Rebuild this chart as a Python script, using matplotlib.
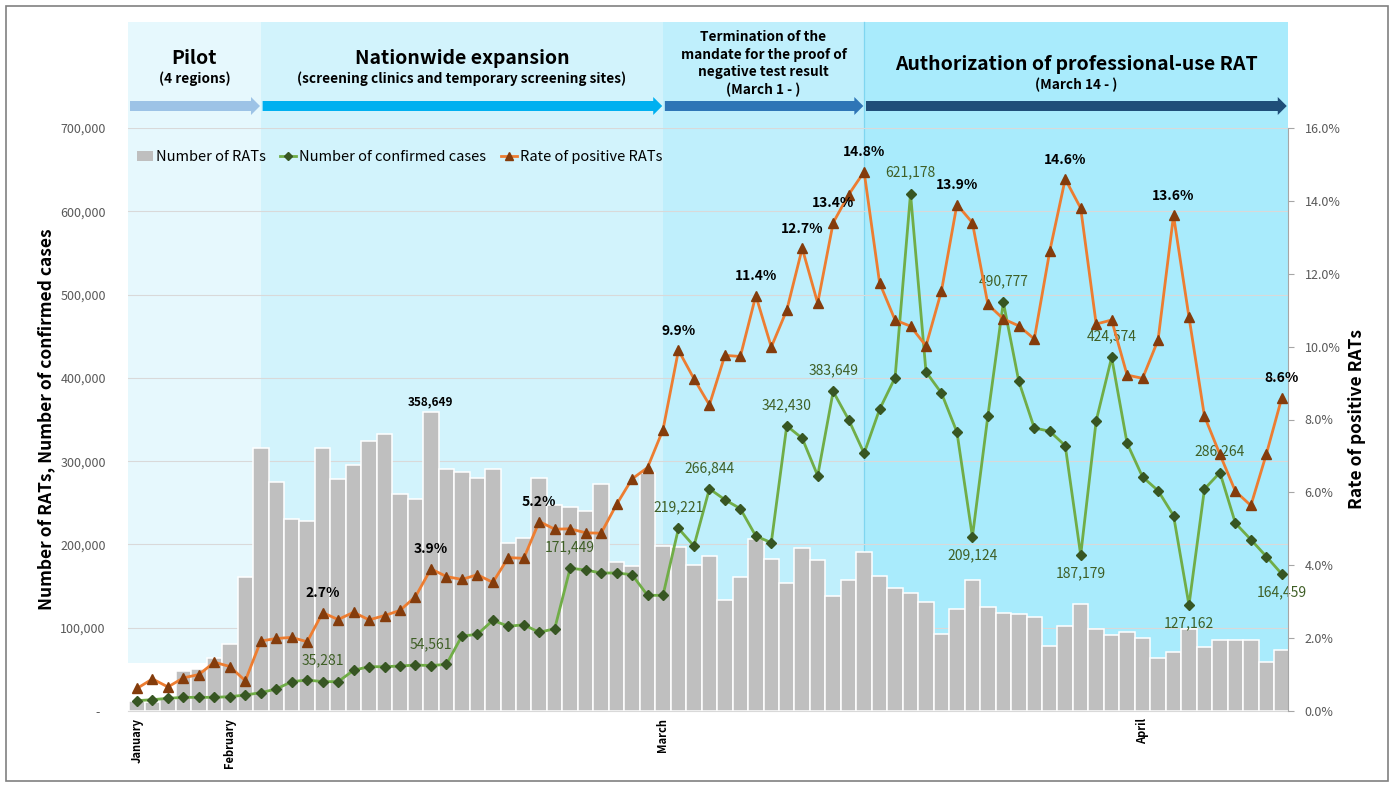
import matplotlib
matplotlib.use("Agg")
import matplotlib.pyplot as plt
import matplotlib.transforms as mtransforms
from matplotlib.patches import Rectangle, Polygon, Patch
from matplotlib.lines import Line2D
from matplotlib.ticker import FuncFormatter, MultipleLocator
import numpy as np
import pandas as pd

plt.rcParams['font.family'] = ['Noto Sans CJK KR', 'DejaVu Sans']

# ---------------------------------------------------------------- data
dates = pd.date_range('2022-01-26', '2022-04-10', freq='D')

rat_tests = [
    12000, 11000, 14000, 48400, 50400, 64000, 80000, 161000, 316000, 275000,
    231000, 228500, 316000, 279000, 295000, 324000, 333000, 260600, 255000, 358649,
    290600, 286600, 279800, 290200, 201700, 207700, 279800, 247000, 244600, 240000,
    273000, 179000, 174500, 285800, 198100, 197300, 175300, 186500, 133300, 160900,
    206500, 182500, 153700, 195300, 181700, 138100, 157300, 190900, 162500, 147300,
    141200, 130600, 92000, 121900, 157100, 125300, 117100, 116600, 112300, 77600,
    101700, 128200, 98800, 91600, 94500, 87700, 63100, 70400, 98800, 77100,
    84800, 84800, 84800, 58800, 72800,
]

confirmed = [
    12400, 13600, 15200, 16400, 16400, 16400, 17200, 19200, 22000, 26400,
    35200, 37200, 35281, 35200, 48900, 53200, 53200, 54000, 55200, 54561,
    56000, 90000, 92000, 108900, 101700, 103600, 94500, 98800, 171449, 169300,
    165700, 165700, 163700, 138900, 138900, 219221, 198100, 266844, 253700, 242900,
    210100, 202100, 342430, 327400, 282500, 383649, 349800, 309400, 362200, 400200,
    621178, 407200, 381700, 334900, 209124, 354200, 490777, 395700, 339800, 335900,
    318600, 187179, 348400, 424574, 321400, 281000, 264600, 234700, 127162, 266500,
    286264, 225500, 205800, 185500, 164459,
]

positive_rate = [
    0.62, 0.88, 0.66, 0.91, 1.00, 1.34, 1.22, 0.83, 1.92, 1.99,
    2.02, 1.90, 2.7, 2.51, 2.71, 2.50, 2.62, 2.76, 3.14, 3.9,
    3.69, 3.61, 3.74, 3.53, 4.21, 4.19, 5.2, 4.99, 5.00, 4.89,
    4.88, 5.67, 6.37, 6.68, 7.72, 9.9, 9.12, 8.40, 9.76, 9.73,
    11.4, 9.99, 11.00, 12.7, 11.19, 13.4, 14.17, 14.8, 11.75, 10.73,
    10.56, 10.02, 11.53, 13.9, 13.40, 11.16, 10.76, 10.57, 10.21, 12.62,
    14.6, 13.80, 10.62, 10.73, 9.22, 9.13, 10.18, 13.6, 10.81, 8.09,
    7.04, 6.03, 5.64, 7.05, 8.6,
]

month_labels = ['January', 'February', 'March', 'April']
month_dates = ['2022-01-26', '2022-02-01', '2022-03-01', '2022-04-01']

phase_titles = ['Pilot', 'Nationwide expansion',
                'Termination of the\nmandate for the proof of\nnegative test result',
                'Authorization of professional-use RAT']
phase_notes = ['(4 regions)', '(screening clinics and temporary screening sites)',
               '(March 1 - )', '(March 14 - )']
phase_starts = ['2022-01-26', '2022-02-03', '2022-03-01', '2022-03-14']

# which points carry value labels
confirmed_above = ['2022-02-07', '2022-02-14', '2022-02-23', '2022-03-02', '2022-03-04',
                   '2022-03-09', '2022-03-12', '2022-03-17', '2022-03-23', '2022-03-30',
                   '2022-04-06']
confirmed_below = ['2022-03-21', '2022-03-28', '2022-04-04', '2022-04-10']
rate_labelled = ['2022-02-07', '2022-02-14', '2022-02-21', '2022-03-02', '2022-03-07',
                 '2022-03-10', '2022-03-12', '2022-03-14', '2022-03-20', '2022-03-27',
                 '2022-04-03', '2022-04-10']
rat_labelled = ['2022-02-14']

# ---------------------------------------------------------------- helpers
def day_index(d):
    return int((pd.Timestamp(d) - dates[0]).days)

x = np.arange(len(dates))

W, H = 1395, 787
fig = plt.figure(figsize=(W / 100, H / 100), dpi=100)
fig.patch.set_facecolor('white')

# plot area in pixels: x 128..1288, y 128..711
ax = fig.add_axes([128 / W, 1 - 711 / H, 1160 / W, 583 / H])
ax2 = ax.twinx()

x_left, x_right = -0.582, 74.40
ax.set_xlim(x_left, x_right)
ax.set_ylim(0, 700000)
ax2.set_ylim(0, 16)


def ya(py):
    """pixel row -> axes fraction"""
    return (711 - py) / 583


trans = mtransforms.blended_transform_factory(ax.transData, ax.transAxes)

# ---------------------------------------------------------------- phase panels
panel_colors = ['#E6F8FD', '#D2F3FC', '#BFEFFC', '#A9EBFC']
arrow_colors = ['#9DC3E6', '#00B0F0', '#2E75B6', '#1F4E79']
starts = [day_index(d) for d in phase_starts]
bounds = [x_left] + starts[1:] + [x_right]
panel_bottom, panel_top = ya(663), ya(22)
for i in range(4):
    ax.add_patch(Rectangle((bounds[i], panel_bottom), bounds[i + 1] - bounds[i],
                           panel_top - panel_bottom, transform=trans,
                           facecolor=panel_colors[i], edgecolor='none',
                           zorder=0, clip_on=False))
ax.add_line(Line2D([bounds[3], bounds[3]], [panel_bottom, panel_top], transform=trans,
                   color='#7FD6F0', lw=0.9, zorder=0.2, clip_on=False))

# arrows
yc = ya(106)
hb, hh = 5 / 583, 9 / 583
hl = 9 / 15.47
for i in range(4):
    x0 = bounds[i] + (0.13 if i == 0 else 0.12)
    x1 = bounds[i + 1] - (0.05 if i < 3 else 0.08)
    pts = [(x0, yc - hb), (x1 - hl, yc - hb), (x1 - hl, yc - hh), (x1, yc),
           (x1 - hl, yc + hh), (x1 - hl, yc + hb), (x0, yc + hb)]
    ax.add_patch(Polygon(pts, closed=True, transform=trans, facecolor=arrow_colors[i],
                         edgecolor='none', zorder=0.3, clip_on=False))

# phase captions
centers = [(bounds[i] + bounds[i + 1]) / 2 for i in range(4)]
big = dict(fontsize=14, fontweight='bold', color='black', ha='center', va='center',
           transform=trans, clip_on=False)
small = dict(fontsize=9.8, fontweight='bold', color='black', ha='center', va='center',
             transform=trans, clip_on=False)
ax.text(centers[0], ya(58), phase_titles[0], **big)
ax.text(centers[0], ya(79), phase_notes[0], **small)
ax.text(centers[1], ya(59), phase_titles[1], **big)
ax.text(centers[1], ya(79), phase_notes[1], **small)
ax.text(centers[2], ya(63.5), phase_titles[2] + '\n' + phase_notes[2],
        linespacing=1.3, **small)
ax.text(centers[3], ya(65), phase_titles[3], **big)
ax.text(centers[3], ya(85), phase_notes[3], **small)

# ---------------------------------------------------------------- series
ax.set_axisbelow(True)
ax.yaxis.grid(True, color='#D9D9D9', lw=0.8, zorder=0.5)
ax.bar(x, rat_tests, width=1.0, color='#BFBFBF', edgecolor='white', linewidth=1.1,
       zorder=2)
ax.plot(x, confirmed, color='#70AD47', lw=2.0, marker='D', ms=5, mfc='#375623',
        mec='#375623', zorder=4)
ax2.plot(x, positive_rate, color='#ED7D31', lw=2.0, marker='^', ms=7, mfc='#843C0C',
         mec='#843C0C', zorder=4)

# value labels
green_txt = '#3F5F26'
for d in confirmed_above:
    i = day_index(d)
    ax.annotate(f'{confirmed[i]:,}', (x[i], confirmed[i]), xytext=(0, 10),
                textcoords='offset points', ha='center', va='bottom', fontsize=10,
                fontweight='medium', color=green_txt, zorder=6)
for d in confirmed_below:
    i = day_index(d)
    ax.annotate(f'{confirmed[i]:,}', (x[i], confirmed[i]), xytext=(0, -8),
                textcoords='offset points', ha='center', va='top', fontsize=10,
                fontweight='medium', color=green_txt, zorder=6)
for d in rate_labelled:
    i = day_index(d)
    ax2.annotate(f'{positive_rate[i]:.1f}%', (x[i], positive_rate[i]), xytext=(0, 9),
                 textcoords='offset points', ha='center', va='bottom', fontsize=10,
                 fontweight='bold', color='black', zorder=6)
for d in rat_labelled:
    i = day_index(d)
    ax.annotate(f'{rat_tests[i]:,}', (x[i], rat_tests[i]), xytext=(0, 3),
                textcoords='offset points', ha='center', va='bottom', fontsize=8.5,
                fontweight='bold', color='black', zorder=6)

# ---------------------------------------------------------------- axes styling
for s in ['left', 'top', 'right']:
    ax.spines[s].set_visible(False)
ax.spines['bottom'].set_color('#D9D9D9')
for s in ['left', 'top', 'bottom']:
    ax2.spines[s].set_visible(False)
ax2.spines['right'].set_color('#A6A6A6')

ax.yaxis.set_major_locator(MultipleLocator(100000))
ax.yaxis.set_major_formatter(FuncFormatter(lambda v, p: '-  ' if v == 0 else f'{v:,.0f}'))
ax.tick_params(axis='y', length=0, pad=16, labelsize=9, labelcolor='#595959')

ax2.yaxis.set_major_locator(MultipleLocator(2))
ax2.yaxis.set_major_formatter(FuncFormatter(lambda v, p: f'{v:.1f}%'))
ax2.tick_params(axis='y', length=4, color='#A6A6A6', pad=8, labelsize=9,
                labelcolor='#595959')

ax.set_xticks([day_index(d) for d in month_dates])
ax.set_xticklabels(month_labels, rotation=90, fontsize=8, fontweight='bold', va='top')
ax.tick_params(axis='x', length=0, pad=5)

ax.set_ylabel('Number of RATs, Number of confirmed cases', fontsize=12.5,
              fontweight='bold')
ax.yaxis.set_label_coords(-0.063, 0.5)
ax2.set_ylabel('Rate of positive RATs', fontsize=12.5, fontweight='bold', rotation=90)
ax2.yaxis.set_label_coords(1.052, 0.5)

# legend
handles = [Patch(facecolor='#BFBFBF', edgecolor='none'),
           Line2D([], [], color='#70AD47', lw=2, marker='D', ms=4, mfc='#375623',
                  mec='#375623'),
           Line2D([], [], color='#ED7D31', lw=2, marker='^', ms=6, mfc='#843C0C',
                  mec='#843C0C')]
labels = ['Number of RATs', 'Number of confirmed cases', 'Rate of positive RATs']
leg = ax2.legend(handles, labels, loc='center left', bbox_to_anchor=(0.0, ya(157)),
                 ncol=3, frameon=False, fontsize=10.5, handlelength=1.1,
                 handletextpad=0.2, columnspacing=1.0, borderaxespad=0.2)

# outer frame
fig.patches.append(Rectangle((6 / W, 6 / H), (1388 - 6) / W, (781 - 6) / H,
                             transform=fig.transFigure, fill=False,
                             edgecolor='#808080', lw=1.2))

fig.savefig('out.png', dpi=100)
